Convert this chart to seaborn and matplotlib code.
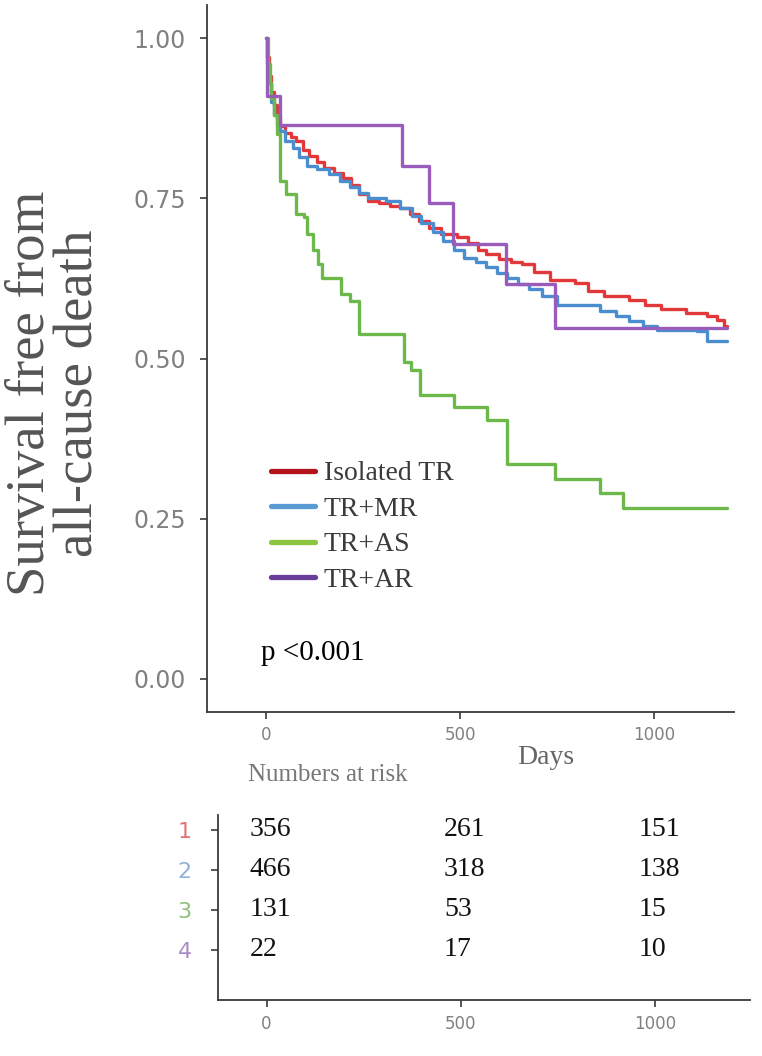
import numpy as np
import pandas as pd
import matplotlib
matplotlib.use("Agg")
import matplotlib.pyplot as plt
from matplotlib.lines import Line2D
import seaborn as sns

# ---------------- data ----------------
groups = ["Isolated TR", "TR+MR", "TR+AS", "TR+AR"]

red_days = [0, 3, 8, 14, 20, 28, 36, 50, 65, 78, 95, 110, 130, 150, 175, 198, 220, 240, 262, 290,
            320, 345, 370, 395, 419, 450, 492, 520, 545, 566, 600, 630, 658, 690, 731, 796, 830, 869,
            934, 975, 1017, 1081, 1136, 1160, 1178, 1187]
red_surv = [1.0, 0.97, 0.94, 0.915, 0.895, 0.875, 0.862, 0.852, 0.846, 0.840, 0.826, 0.816, 0.806,
            0.797, 0.790, 0.782, 0.770, 0.757, 0.746, 0.742, 0.738, 0.735, 0.725, 0.715, 0.704, 0.695,
            0.689, 0.680, 0.670, 0.663, 0.655, 0.650, 0.647, 0.635, 0.623, 0.618, 0.605, 0.597, 0.592,
            0.583, 0.577, 0.571, 0.566, 0.560, 0.550, 0.550]

blue_days = [0, 3, 8, 14, 20, 28, 36, 50, 69, 85, 106, 130, 161, 190, 216, 240, 262, 308, 345, 375,
             400, 430, 455, 485, 511, 540, 566, 595, 621, 650, 676, 710, 750, 860, 900, 934, 970, 1007,
             1060, 1109, 1136, 1187]
blue_surv = [1.0, 0.96, 0.93, 0.90, 0.88, 0.865, 0.855, 0.84, 0.829, 0.815, 0.80, 0.795, 0.788, 0.777,
             0.767, 0.758, 0.751, 0.746, 0.735, 0.722, 0.712, 0.697, 0.683, 0.670, 0.657, 0.650, 0.642,
             0.633, 0.626, 0.617, 0.608, 0.597, 0.584, 0.574, 0.566, 0.558, 0.550, 0.545, 0.544, 0.543,
             0.527, 0.527]

green_days = [0, 5, 10, 14, 20, 28, 37, 51, 78, 97, 106, 120, 133, 143, 193, 216, 239, 354, 373, 396,
              485, 570, 621, 745, 860, 920, 1187]
green_surv = [1.0, 0.96, 0.93, 0.907, 0.88, 0.85, 0.777, 0.756, 0.725, 0.72, 0.694, 0.67, 0.647, 0.626,
              0.60, 0.59, 0.5375, 0.495, 0.482, 0.443, 0.4245, 0.404, 0.336, 0.3125, 0.29, 0.266, 0.266]

purple_days = [0, 2, 35, 350, 419, 481, 619, 745, 1187]
purple_surv = [1.0, 0.909, 0.864, 0.80, 0.742, 0.678, 0.617, 0.547, 0.547]

risk_times = [0, 500, 1000]
risk_rows = ["1", "2", "3", "4"]
risk_1 = [356, 261, 151]
risk_2 = [466, 318, 138]
risk_3 = [131, 53, 15]
risk_4 = [22, 17, 10]

curve_colors = ["#E2383A", "#4A8ECF", "#6DB84B", "#9A5CBA"]
legend_colors = ["#B3131B", "#5B9BD5", "#8CC63F", "#6A3D9A"]
row_colors = ["#E57373", "#8FB1D8", "#8DC07A", "#A98BC9"]

# ---------------- build ----------------
frames = []
for g, d, s in zip(groups, [red_days, blue_days, green_days, purple_days],
                   [red_surv, blue_surv, green_surv, purple_surv]):
    frames.append(pd.DataFrame({"day": d, "surv": s, "group": g}))
df = pd.concat(frames, ignore_index=True)

sns.set_theme(style="ticks")
plt.rcParams["font.family"] = ["DejaVu Sans"]
SERIF = ["Liberation Serif", "DejaVu Serif"]

W, H = 762, 1056
fig = plt.figure(figsize=(W / 100, H / 100), dpi=100)
fig.patch.set_facecolor("white")

# main KM axes
ax = fig.add_axes([207 / W, 1 - 712 / H, 527 / W, 707 / H])
sns.lineplot(data=df, x="day", y="surv", hue="group", hue_order=groups,
             palette=dict(zip(groups, curve_colors)), drawstyle="steps-post",
             estimator=None, sort=False, linewidth=2.4, legend=False, ax=ax)
ax.set_xlim(-152, 1205)
ax.set_ylim(-0.0515, 1.0515)
ax.set_xticks([0, 500, 1000])
ax.set_yticks([0, 0.25, 0.5, 0.75, 1.0])
ax.set_yticklabels(["0.00", "0.25", "0.50", "0.75", "1.00"])
ax.set_xlabel("")
ax.set_ylabel("")
for sp in ["top", "right"]:
    ax.spines[sp].set_visible(False)
for sp in ["left", "bottom"]:
    ax.spines[sp].set_color("#3a3a3a")
    ax.spines[sp].set_linewidth(1.3)
ax.tick_params(axis="both", length=5, width=1.2, color="#3a3a3a", labelcolor="#808080")
ax.tick_params(axis="y", labelsize=17, pad=10)
ax.tick_params(axis="x", labelsize=12, pad=5)

handles = [Line2D([], [], color=c, lw=3.8) for c in legend_colors]
leg = ax.legend(handles, groups, loc="upper left",
                bbox_to_anchor=((271 - 207) / 527, (712 - 461) / 707),
                frameon=False, borderpad=0, borderaxespad=0, handlelength=1.6,
                handletextpad=0.3, labelspacing=0.36,
                prop={"family": SERIF, "size": 20})
for t in leg.get_texts():
    t.set_color("#3a3a3a")

ax.text(-12, 0.04, "p <0.001", ha="left", va="center", fontsize=21,
        family=SERIF, color="black")

fig.text(55 / W, 1 - 393 / H, "Survival free from\nall-cause death", rotation=90,
         ha="center", va="center", multialignment="center", fontsize=39.5,
         family=SERIF, color="#555555", linespacing=0.95)
fig.text(546 / W, 1 - 757 / H, "Days", ha="center", va="center", fontsize=20,
         family=SERIF, color="#666666")

# numbers at risk table
fig.text(248 / W, 1 - 775 / H, "Numbers at risk", ha="left", va="center", fontsize=18,
         family=SERIF, color="#777777")
rax = fig.add_axes([218 / W, 1 - 1000 / H, 532 / W, 185 / H])
rax.set_xlim(-125, 1245)
rax.set_ylim(5.25, 0.625)
rax.set_xticks(risk_times)
rax.set_yticks([1, 2, 3, 4])
rax.set_yticklabels(risk_rows)
for lab, c in zip(rax.get_yticklabels(), row_colors):
    lab.set_color(c)
for sp in ["top", "right"]:
    rax.spines[sp].set_visible(False)
for sp in ["left", "bottom"]:
    rax.spines[sp].set_color("#3a3a3a")
    rax.spines[sp].set_linewidth(1.3)
rax.tick_params(axis="both", length=5, width=1.2, color="#3a3a3a")
rax.tick_params(axis="y", labelsize=16, pad=14)
rax.tick_params(axis="x", labelsize=12, pad=6, labelcolor="#808080")
rax.set_facecolor("white")
for row, vals in enumerate([risk_1, risk_2, risk_3, risk_4], start=1):
    for t, v in zip(risk_times, vals):
        rax.annotate(str(v), (t, row), xytext=(-12, 0), textcoords="offset points",
                     ha="left", va="center", fontsize=20, family=SERIF, color="#111111")

fig.savefig("out.png", dpi=100, facecolor="white")
